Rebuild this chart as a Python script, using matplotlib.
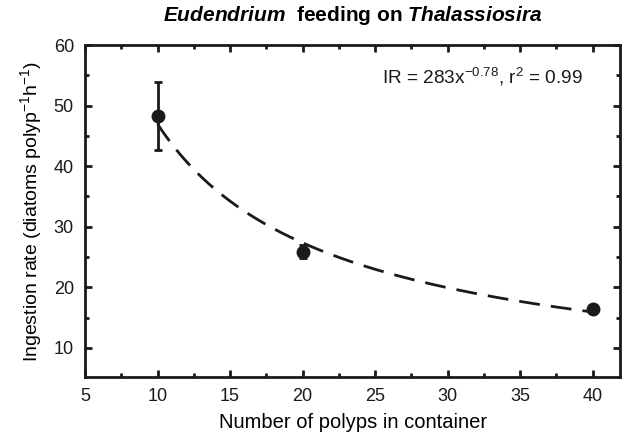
import numpy as np
import matplotlib.pyplot as plt

plt.rcParams['font.family'] = ['Liberation Sans', 'DejaVu Sans']
plt.rcParams['mathtext.fontset'] = 'custom'
plt.rcParams['mathtext.rm'] = 'Liberation Sans'
plt.rcParams['mathtext.it'] = 'Liberation Sans:italic'
plt.rcParams['mathtext.bf'] = 'Liberation Sans:bold'
plt.rcParams['mathtext.bfit'] = 'Liberation Sans:italic:bold'

# data
polyps = [10, 20, 40]
ingestion = [48.3, 25.9, 16.4]
err = [5.6, 1.1, 0.0]

# fit given on the chart: IR = a * x^b
fit_a = 283
fit_b = -0.78
fit_x = np.linspace(10, 40, 200)

fig = plt.figure(figsize=(6.22, 4.4), dpi=100)
ax = fig.add_axes([0.1367, 0.1432, 0.8603, 0.7545])

ax.plot(fit_x, fit_a * fit_x ** fit_b, color='#1a1a1a', lw=2,
        dashes=(7.5, 4), zorder=2)
ax.errorbar(polyps, ingestion, yerr=err, fmt='o', color='#1a1a1a',
            ms=9, elinewidth=2, capsize=3, capthick=2, zorder=3)

ax.set_xlim(5, 41.9)
ax.set_ylim(5.2, 60)
ax.set_xticks(np.arange(5, 41, 5))
ax.set_xticks(np.arange(7.5, 41, 5), minor=True)
ax.set_yticks(np.arange(10, 61, 10))
ax.set_yticks(np.arange(15, 60, 10), minor=True)
ax.tick_params(which='both', direction='in', top=True, right=True,
               width=2, colors='#1a1a1a', labelsize=13)
ax.tick_params(which='major', length=5, pad=8)
ax.tick_params(which='minor', length=3)
for s in ax.spines.values():
    s.set_linewidth(2)
    s.set_color('#1a1a1a')

ax.set_xlabel('Number of polyps in container', fontsize=14.5, labelpad=6)
ax.set_ylabel(r'Ingestion rate (diatoms polyp$^{-1}$h$^{-1}$)', fontsize=14,
              labelpad=7)
ax.set_title(r'$\mathbfit{Eudendrium}$  feeding on $\mathbfit{Thalassiosira}$',
             fontsize=15, fontweight='bold', pad=17)
ax.text(0.931, 0.904, r'IR = 283x$^{-0.78}$, r$^2$ = 0.99', transform=ax.transAxes,
        ha='right', va='center', fontsize=13.7, color='#1a1a1a')

fig.savefig('out.png', dpi=100)
